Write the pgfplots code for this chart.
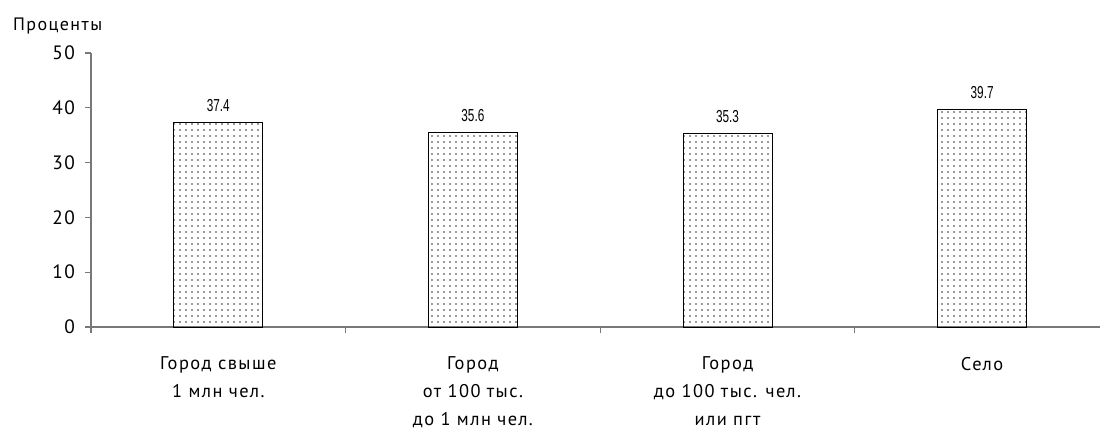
\documentclass[border=0pt]{standalone}
\usepackage{pgfplots}
\pgfplotsset{compat=1.18}
\usepackage{fontspec}
\setmainfont{PT Sans}[LetterSpace=8]
\newfontfamily\valfont{Liberation Sans}[FakeStretch=0.68]
\usetikzlibrary{patterns}
\pgfdeclarepatternformonly{mydots}{\pgfqpoint{-1pt}{-1pt}}{\pgfqpoint{1pt}{1pt}}{\pgfqpoint{4.5pt}{4.5pt}}{%
  \pgfpathcircle{\pgfqpoint{0pt}{0pt}}{0.62pt}%
  \pgfpathcircle{\pgfqpoint{2.25pt}{2.25pt}}{0.62pt}%
  \pgfusepath{fill}}
\definecolor{axgray}{RGB}{120,120,120}
\begin{document}
\begin{tikzpicture}
\path[use as bounding box] (-68.25pt,-77.25pt) rectangle (756.75pt,245.25pt);
\begin{axis}[
  at={(0pt,0pt)}, anchor=south west,
  scale only axis, width=756.75pt, height=205.5pt,
  xmin=-0.5, xmax=3.463, ymin=0, ymax=50,
  axis x line*=bottom, axis y line*=left,
  axis line style={axgray, line width=0.9pt},
  tick style={axgray, line width=0.8pt},
  major tick length=4.5pt,
  tick align=outside,
  ytick={0,10,20,30,40,50},
  yticklabels={0,10,20,30,40,50},
  yticklabel style={font=\fontsize{14.5}{16}\selectfont, text=black, xshift=-4pt},
  xtick={-0.5,0.5,1.5,2.5},
  xticklabels={},
  extra x ticks={0,1,2,3},
  extra x tick labels={Город свыше\\1 млн чел., Город\\от 100 тыс.\\до 1 млн чел., Город\\до 100 тыс. чел.\\или пгт, Село},
  extra x tick style={major tick length=0pt, tick style={draw=none},
     xticklabel style={align=center, anchor=north, yshift=-19pt,
       font=\fontsize{13.8}{20.8}\selectfont, text=black}},
  nodes near coords={\pgfmathprintnumber[assume math mode=true,fixed,fixed zerofill,precision=1]{\pgfplotspointmeta}},
  every node near coord/.append style={font=\valfont\fontsize{13}{14}\selectfont, anchor=base, yshift=8pt, inner sep=0pt, text=black},
]
\addplot[ybar, bar width=66.75pt, draw=black, line width=0.6pt, pattern=mydots, pattern color=black!80]
  coordinates {(0,37.4) (1,35.6) (2,35.3) (3,39.7)};
\end{axis}
\node[anchor=west, font=\fontsize{13.5}{15}\selectfont] at (-62pt,226pt) {Проценты};
\end{tikzpicture}
\end{document}
